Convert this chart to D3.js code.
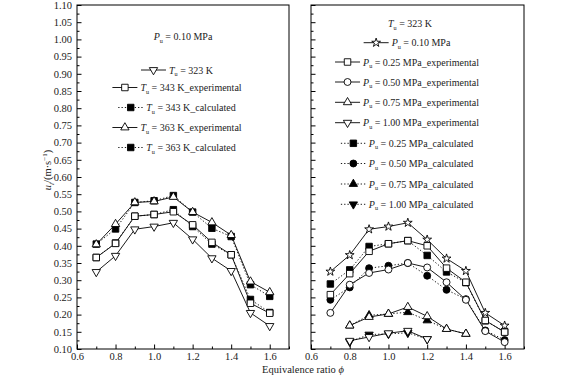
<!DOCTYPE html>
<html>
<head>
<meta charset="utf-8">
<script src="https://cdn.jsdelivr.net/npm/d3@7"></script>
<style>
  body { margin: 0; background: #fff; }
  svg { font-family: "Liberation Serif", "Times New Roman", serif; }
</style>
</head>
<body>
<svg id="chart" width="567" height="377"></svg>
<script>
// ---- data ----
const phi = [0.7, 0.8, 0.9, 1.0, 1.1, 1.2, 1.3, 1.4, 1.5, 1.6];
const phi075 = [0.8, 0.9, 1.0, 1.1, 1.2, 1.3, 1.4];
const phi100 = [0.8, 0.9, 1.0, 1.1, 1.2];

// left panel, Pu = 0.10 MPa
const t323 = [0.324, 0.371, 0.448, 0.456, 0.467, 0.419, 0.364, 0.327, 0.205, 0.167];
const t343Exp = [0.366, 0.407, 0.486, 0.491, 0.499, 0.461, 0.410, 0.374, 0.233, 0.204];
const t343Calc = [0.366, 0.408, 0.486, 0.491, 0.505, 0.456, 0.405, 0.374, 0.244, 0.206];
const t363Exp = [0.404, 0.463, 0.526, 0.529, 0.542, 0.498, 0.468, 0.431, 0.296, 0.265];
const t363Calc = [0.405, 0.449, 0.526, 0.531, 0.546, 0.498, 0.451, 0.427, 0.287, 0.253];

// right panel, Tu = 323 K
const p010 = [0.325, 0.373, 0.448, 0.456, 0.467, 0.418, 0.363, 0.327, 0.205, 0.168];
const p025Exp = [0.258, 0.319, 0.384, 0.406, 0.415, 0.400, 0.335, 0.294, 0.183, 0.149];
const p025Calc = [0.289, 0.330, 0.398, 0.406, 0.415, 0.372, 0.324, 0.293, 0.182, 0.150];
const p050Exp = [0.205, 0.287, 0.321, 0.331, 0.350, 0.337, 0.294, 0.243, 0.152, 0.120];
const p050Calc = [0.243, 0.279, 0.335, 0.342, 0.350, 0.313, 0.272, 0.245, 0.154, 0.126];
const p075Exp = [0.168, 0.193, 0.202, 0.222, 0.195, 0.158, 0.144];
const p075Calc = [0.168, 0.198, 0.202, 0.207, 0.183, 0.158, 0.144];
const p100Exp = [0.124, 0.135, 0.146, 0.153, 0.129];
const p100Calc = [0.121, 0.142, 0.144, 0.147, 0.129];

// ticks
const xTicks = [0.6, 0.8, 1.0, 1.2, 1.4, 1.6];
const xMinor = [0.7, 0.9, 1.1, 1.3, 1.5, 1.7];
const yTicks = [0.10, 0.15, 0.20, 0.25, 0.30, 0.35, 0.40, 0.45, 0.50, 0.55,
                0.60, 0.65, 0.70, 0.75, 0.80, 0.85, 0.90, 0.95, 1.00, 1.05, 1.10];

// legend labels: [variable, subscript, rest]
const leftHeader = ['P', 'u', ' = 0.10 MPa'];
const leftLabels = [
  ['T', 'u', ' = 323 K'],
  ['T', 'u', ' = 343 K_experimental'],
  ['T', 'u', ' = 343 K_calculated'],
  ['T', 'u', ' = 363 K_experimental'],
  ['T', 'u', ' = 363 K_calculated']
];
const rightHeader = ['T', 'u', ' = 323 K'];
const rightLabels = [
  ['P', 'u', ' = 0.10 MPa'],
  ['P', 'u', ' = 0.25 MPa_experimental'],
  ['P', 'u', ' = 0.50 MPa_experimental'],
  ['P', 'u', ' = 0.75 MPa_experimental'],
  ['P', 'u', ' = 1.00 MPa_experimental'],
  ['P', 'u', ' = 0.25 MPa_calculated'],
  ['P', 'u', ' = 0.50 MPa_calculated'],
  ['P', 'u', ' = 0.75 MPa_calculated'],
  ['P', 'u', ' = 1.00 MPa_calculated']
];

// ---- drawing ----
const svg = d3.select('#chart');

const y = d3.scaleLinear().domain([0.1, 1.1]).range([349, 5]);
const xLeft = d3.scaleLinear().domain([0.6, 1.7]).range([77, 289]);
const xRight = d3.scaleLinear().domain([0.6, 1.7]).range([311, 524]);

const symbols = {
  square: d3.symbol().type(d3.symbolSquare).size(42)(),
  circle: d3.symbol().type(d3.symbolCircle).size(38)(),
  triangle: d3.symbol().type(d3.symbolTriangle).size(30)(),
  star: d3.symbol().type(d3.symbolStar).size(24)()
};

function pack(xs, ys, sym, filled, dotted, down) {
  return { pts: xs.map((d, i) => [d, ys[i]]), sym, filled, dotted, down };
}

const leftSeries = [
  pack(phi, t343Calc, 'square', true, true),
  pack(phi, t363Calc, 'square', true, true),
  pack(phi, t323, 'triangle', false, false, true),
  pack(phi, t343Exp, 'square', false, false),
  pack(phi, t363Exp, 'triangle', false, false)
];
const leftLegend = [leftSeries[2], leftSeries[3], leftSeries[0], leftSeries[4], leftSeries[1]];

const rightSeries = [
  pack(phi, p025Calc, 'square', true, true),
  pack(phi, p050Calc, 'circle', true, true),
  pack(phi075, p075Calc, 'triangle', true, true),
  pack(phi100, p100Calc, 'triangle', true, true, true),
  pack(phi, p010, 'star', false, false),
  pack(phi, p025Exp, 'square', false, false),
  pack(phi, p050Exp, 'circle', false, false),
  pack(phi075, p075Exp, 'triangle', false, false),
  pack(phi100, p100Exp, 'triangle', false, false, true)
];
const rightLegend = [rightSeries[4], rightSeries[5], rightSeries[6], rightSeries[7], rightSeries[8],
                     rightSeries[0], rightSeries[1], rightSeries[2], rightSeries[3]];

function marker(sel, s) {
  sel.append('path')
      .attr('d', symbols[s.sym])
      .attr('transform', d => `translate(${d[0]},${d[1]})` + (s.down ? ' rotate(180)' : ''))
      .attr('fill', s.filled ? '#000' : '#fff')
      .attr('stroke', '#000')
      .attr('stroke-width', 0.9);
}

function drawPanel(x, series, showLabels) {
  const g = svg.append('g');

  // minor ticks
  g.append('g')
      .attr('transform', `translate(0,${y.range()[0]})`)
      .call(d3.axisBottom(x).tickValues(xMinor).tickSize(-2.5).tickFormat(''))
      .call(a => a.select('.domain').remove());
  g.append('g')
      .attr('transform', `translate(${x.range()[0]},0)`)
      .call(d3.axisLeft(y).tickValues(yTicks.slice(0, -1).map(v => v + 0.025)).tickSize(-2.5).tickFormat(''))
      .call(a => a.select('.domain').remove());

  // major ticks
  g.append('g')
      .attr('transform', `translate(0,${y.range()[0]})`)
      .call(d3.axisBottom(x).tickValues(xTicks).tickSize(-4.5).tickPadding(4).tickFormat(d3.format('.1f')))
      .call(a => a.select('.domain').remove());
  g.append('g')
      .attr('transform', `translate(${x.range()[0]},0)`)
      .call(d3.axisLeft(y).tickValues(yTicks).tickSize(-4.5).tickPadding(5)
        .tickFormat(showLabels ? d3.format('.2f') : ''))
      .call(a => a.select('.domain').remove());

  g.selectAll('.tick text')
      .attr('font-family', '"Liberation Serif", serif')
      .attr('font-size', 10.5)
      .attr('fill', '#222');
  g.selectAll('.tick line').attr('stroke', '#000');

  g.append('rect')
      .attr('x', x.range()[0])
      .attr('y', y.range()[1])
      .attr('width', x.range()[1] - x.range()[0])
      .attr('height', y.range()[0] - y.range()[1])
      .attr('fill', 'none')
      .attr('stroke', '#000')
      .attr('stroke-width', 1);

  const line = d3.line().x(d => x(d[0])).y(d => y(d[1]));
  series.forEach(s => {
    g.append('path')
        .attr('d', line(s.pts))
        .attr('fill', 'none')
        .attr('stroke', '#000')
        .attr('stroke-width', 0.9)
        .attr('stroke-dasharray', s.dotted ? '1.3,2' : null);
  });
  series.forEach(s => {
    const m = g.append('g').selectAll('g').data(s.pts.map(d => [x(d[0]), y(d[1])])).join('g');
    marker(m, s);
  });
}

function label(textSel, parts, size) {
  textSel.append('tspan').attr('font-style', 'italic').text(parts[0]);
  textSel.append('tspan').attr('font-size', size * 0.62).attr('dy', 2.5).text(parts[1]);
  textSel.append('tspan').attr('dy', -2.5).text(parts[2]);
}

function legend(cx, headerPos, header, rows, rowY, entries) {
  const fs = 10;
  const h = svg.append('text')
      .attr('x', headerPos[0]).attr('y', headerPos[1])
      .attr('text-anchor', 'middle')
      .attr('font-size', fs)
      .attr('fill', '#222');
  label(h, header, fs);

  rows.forEach((parts, i) => {
    const s = entries[i];
    const row = svg.append('g');
    const t = row.append('text')
        .attr('x', 28).attr('y', 3.5)
        .attr('font-size', fs)
        .attr('fill', '#222');
    label(t, parts, fs);
    const w = 28 + t.node().getComputedTextLength();
    row.append('line')
        .attr('x1', 0).attr('x2', 25).attr('y1', 0).attr('y2', 0)
        .attr('stroke', '#000').attr('stroke-width', 0.9)
        .attr('stroke-dasharray', s.dotted ? '1.3,2' : null);
    marker(row.selectAll('.m').data([[12.5, 0]]).join('g'), s);
    row.attr('transform', `translate(${cx - w / 2},${rowY[i]})`);
  });
}

drawPanel(xLeft, leftSeries, true);
drawPanel(xRight, rightSeries, false);

legend(177, [183, 40], leftHeader, leftLabels, [70, 87.5, 107.5, 127.5, 147.5], leftLegend);
legend(407, [410, 27], rightHeader, rightLabels,
       [42.7, 62, 82, 102.3, 122.7, 143.3, 163.5, 184, 204.3], rightLegend);

// axis titles
const yt = svg.append('text')
    .attr('transform', 'translate(51,170) rotate(-90)')
    .attr('text-anchor', 'middle')
    .attr('font-size', 10.5)
    .attr('fill', '#222');
yt.append('tspan').attr('font-style', 'italic').text('u');
yt.append('tspan').attr('font-style', 'italic').attr('font-size', 7).attr('dy', 2.5).text('l');
yt.append('tspan').attr('dy', -2.5).text('/(m·s');
yt.append('tspan').attr('font-size', 7).attr('dy', -4).text('−1');
yt.append('tspan').attr('dy', 4).text(')');

const xt = svg.append('text')
    .attr('x', 303).attr('y', 373)
    .attr('text-anchor', 'middle')
    .attr('font-size', 10.5)
    .attr('fill', '#222');
xt.append('tspan').text('Equivalence ratio ');
xt.append('tspan').attr('font-style', 'italic').text('ϕ');
</script>
</body>
</html>
